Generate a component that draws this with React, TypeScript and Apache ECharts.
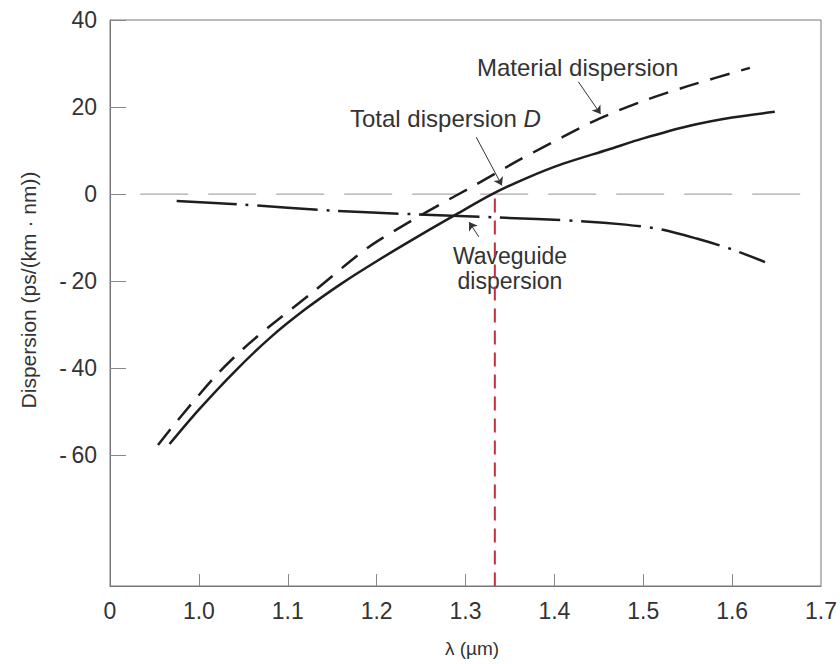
import React, { useEffect, useRef } from "react";
import * as echarts from "echarts";

// wavelength (µm) and dispersion (ps/(km·nm))
const materialLambda = [0.954, 0.98, 1.02, 1.05, 1.08, 1.13, 1.19, 1.24, 1.27, 1.31, 1.36, 1.41, 1.45, 1.5, 1.55, 1.62];
const materialD = [-57.6, -51.0, -41.5, -35.5, -30.3, -22.2, -12.3, -6.0, -2.5, 2.0, 7.8, 13.2, 17.3, 21.4, 24.8, 29.0];

const totalLambda = [0.967, 1.0, 1.04, 1.08, 1.12, 1.16, 1.2, 1.25, 1.29, 1.33, 1.37, 1.41, 1.46, 1.5, 1.55, 1.6, 1.648];
const totalD = [-57.4, -49.5, -40.8, -33.0, -26.4, -20.6, -15.4, -9.3, -4.6, 0.0, 3.8, 7.0, 10.2, 12.8, 15.6, 17.6, 18.9];

const waveguideLambda = [0.975, 1.05, 1.15, 1.24, 1.33, 1.43, 1.48, 1.52, 1.56, 1.6, 1.637];
const waveguideD = [-1.6, -2.4, -3.8, -4.6, -5.3, -6.2, -7.0, -8.1, -10.2, -12.7, -15.6];

const zeroLine = [[0.934, 0], [1.7, 0]];
const zeroDispersionLambda = 1.333;
const redLine = [[zeroDispersionLambda, -1.0], [zeroDispersionLambda, -90]];

const xLabelValues = [0.9, 1.0, 1.1, 1.2, 1.3, 1.4, 1.5, 1.6, 1.7];
const xTickValues = [1.0, 1.1, 1.2, 1.3, 1.4, 1.5, 1.6];
const yLabelValues = [-60, -40, -20, 0, 20, 40];

// leader lines for annotations: [from, to] in data coordinates
const leaders = [
  [[1.427, 25.8], [1.452, 18.4]],
  [[1.312, 13.1], [1.341, 2.0]],
  [[1.315, -9.8], [1.304, -6.4]],
];

const zip = (xs: number[], ys: number[]) => xs.map((x, i) => [x, ys[i]]);

const FONT = "'Liberation Sans', Arial, Helvetica, sans-serif";
const INK = "#1e1e1e";
const TEXT = "#333";

export default function App() {
  const ref = useRef<HTMLDivElement>(null);
  useEffect(() => {
    if (!ref.current) return;
    const chart = echarts.init(ref.current, undefined, { renderer: "svg" });
    chart.setOption({
      animation: false,
      backgroundColor: "#fff",
      grid: {
        left: 110,
        top: 20,
        right: 17,
        bottom: 78,
        show: true,
        borderColor: "#777",
        borderWidth: 1,
        backgroundColor: "transparent",
      },
      xAxis: {
        type: "value",
        min: 0.9,
        max: 1.7,
        axisLine: { show: true, onZero: false, lineStyle: { color: "#777", width: 1 } },
        axisTick: {
          show: true,
          inside: true,
          length: 12,
          customValues: xTickValues,
          lineStyle: { color: "#888" },
        },
        splitLine: { show: false },
        axisLabel: {
          customValues: xLabelValues,
          margin: 13,
          fontSize: 23,
          fontFamily: FONT,
          color: TEXT,
          formatter: (v: number) => (v < 0.95 ? "0" : v.toFixed(1)),
        },
      },
      yAxis: {
        type: "value",
        min: -90,
        max: 40,
        axisLine: { show: true, onZero: false, lineStyle: { color: "#777", width: 1 } },
        axisTick: {
          show: true,
          inside: true,
          length: 16,
          customValues: yLabelValues,
          lineStyle: { color: "#888" },
        },
        splitLine: { show: false },
        axisLabel: {
          customValues: yLabelValues,
          margin: 13,
          fontSize: 23,
          fontFamily: FONT,
          color: TEXT,
          formatter: (v: number) => (v < 0 ? "-\u2009" + Math.abs(v) : String(v)),
        },
      },
      graphic: [
        {
          type: "text",
          x: 477,
          y: 67,
          style: { text: "Material dispersion", font: `24px ${FONT}`, fill: TEXT, align: "left", verticalAlign: "middle" },
        },
        {
          type: "text",
          x: 350,
          y: 118,
          style: {
            text: "Total dispersion {i|D}",
            font: `24px ${FONT}`,
            fill: TEXT,
            align: "left",
            verticalAlign: "middle",
            rich: { i: { fontStyle: "italic", fontSize: 24, fontFamily: FONT, fill: TEXT } },
          },
        },
        {
          type: "text",
          x: 510,
          y: 268,
          style: {
            text: "Waveguide\ndispersion",
            font: `23px ${FONT}`,
            fill: TEXT,
            align: "center",
            verticalAlign: "middle",
            lineHeight: 25,
          },
        },
        {
          type: "text",
          x: 472,
          y: 648,
          style: { text: "\u03bb (\u00b5m)", font: `19px ${FONT}`, fill: TEXT, align: "center", verticalAlign: "middle" },
        },
        {
          type: "text",
          x: 28,
          y: 290,
          rotation: Math.PI / 2,
          style: {
            text: "Dispersion (ps/(km \u00b7 nm))",
            font: `21px ${FONT}`,
            fill: TEXT,
            align: "center",
            verticalAlign: "middle",
          },
        },
      ],
      series: [
        {
          name: "zero",
          type: "line",
          data: zeroLine,
          symbol: "none",
          lineStyle: { color: "#aaa", width: 1.2, type: [48, 20] },
          silent: true,
          z: 1,
        },
        {
          name: "zero-dispersion wavelength",
          type: "line",
          data: redLine,
          symbol: "none",
          lineStyle: { color: "#c2303f", width: 2, type: [14, 8] },
          silent: true,
          z: 1,
        },
        {
          name: "Waveguide dispersion",
          type: "line",
          data: zip(waveguideLambda, waveguideD),
          smooth: 0.3,
          symbol: "none",
          lineStyle: { color: INK, width: 2.5, type: [60, 9, 3, 9] },
          z: 3,
        },
        {
          name: "Material dispersion",
          type: "line",
          data: zip(materialLambda, materialD),
          smooth: 0.3,
          symbol: "none",
          lineStyle: { color: INK, width: 2.5, type: [20, 12] },
          z: 3,
        },
        {
          name: "Total dispersion D",
          type: "line",
          data: zip(totalLambda, totalD),
          smooth: 0.3,
          symbol: "none",
          lineStyle: { color: INK, width: 2.5, type: "solid" },
          z: 3,
          markLine: {
            silent: true,
            symbol: ["none", "arrow"],
            symbolSize: 8,
            label: { show: false },
            lineStyle: { color: "#333", width: 1, type: "solid" },
            data: leaders.map(([a, b]) => [{ coord: a }, { coord: b }]),
          },
        },
      ],
    });
    return () => chart.dispose();
  }, []);
  return (
    <div
      ref={ref}
      style={{ position: "fixed", left: 0, top: 0, width: 840, height: 664, background: "#fff" }}
    />
  );
}
